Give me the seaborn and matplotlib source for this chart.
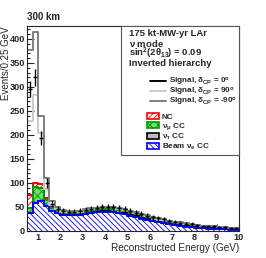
import numpy as np
import pandas as pd
import seaborn as sns
import matplotlib
matplotlib.use("Agg")
from matplotlib import pyplot as plt
from matplotlib.patches import Patch, Rectangle
from matplotlib.lines import Line2D
from matplotlib.ticker import MultipleLocator

# %% data (events / 0.25 GeV), bins from 0.5 to 10 GeV
edges = [0.5 + 0.25 * i for i in range(39)]
centers = [e + 0.125 for e in edges[:-1]]

beam_nue = [37, 58, 62, 52, 42, 37, 34, 33, 33, 34, 36, 38, 39, 40, 40, 39, 37, 35, 32,
            29, 26, 23, 20, 18, 16, 14, 12, 11, 9, 8, 7, 6, 5, 5, 4, 4, 3, 3]
nutau_cc = [0, 0, 0, 0, 0, 0, 0, 0, 0, 0, 0, 0, 0.5, 1, 1, 1.5, 1.5, 1.5, 1.5, 1.5,
            1.5, 1.5, 1.5, 1.5, 1, 1, 1, 1, 1, 1, 1, 0.5, 0.5, 0.5, 0.5, 0.5, 0.5, 0.5]
numu_cc = [11, 34, 28, 12, 6, 4, 3, 3, 3, 3, 4, 4, 4, 5, 5, 5, 5, 5, 5,
           5, 5, 5, 5, 5, 5, 4, 4, 4, 4, 4, 3, 3, 3, 3, 3, 2, 2, 2]
nc = [27, 9, 7, 4, 3, 2, 2, 2, 2, 2, 2, 2, 2, 2, 2, 2, 2, 2, 1.5,
      1.5, 1.5, 1.5, 1, 1, 1, 1, 1, 1, 1, 1, 0.5, 0.5, 0.5, 0.5, 0.5, 0.5, 0.5, 0.5]

# signal only (added on top of the background)
sig_0 = [221, 219, 97, 32, 6, 3, 2, 2, 2, 2, 2, 2, 2, 2, 2, 2, 2, 1.5, 1.5,
         1.5, 1, 1, 1, 1, 1, 1, 1, 0.5, 0.5, 0.5, 0.5, 0.5, 0.5, 0.5, 0.5, 0.5, 0.5, 0.5]
sig_p90 = [155, 182, 108, 20, 4, 2, 1.5, 1.5, 1.5, 1.5, 1.5, 1.5, 1.5, 1.5, 1.5, 1.5, 1, 1, 1,
           1, 1, 1, 1, 0.5, 0.5, 0.5, 0.5, 0.5, 0.5, 0.5, 0.5, 0.5, 0.5, 0.5, 0.5, 0.5, 0.5, 0.5]
sig_m90 = [302, 314, 143, 42, 11, 7, 4, 3, 3, 3, 3, 3, 3, 3, 3, 3, 3, 2.5, 2.5,
           2, 2, 2, 2, 1.5, 1.5, 1.5, 1, 1, 1, 1, 1, 1, 1, 0.5, 0.5, 0.5, 0.5, 0.5]
err_0 = [17, 18, 14, 10, 7.5, 7, 6.5, 6.5, 6.5, 6.5, 6.8, 6.9, 7, 7, 7, 7, 6.8, 6.6, 6.4,
         6.2, 5.9, 5.6, 5.3, 5, 4.7, 4.4, 4.2, 4, 3.7, 3.5, 3.2, 3, 2.8, 2.7, 2.5, 2.4, 2.2, 2.1]

df = pd.DataFrame({"E": centers, "nue": beam_nue, "nutau": nutau_cc,
                   "numu": numu_cc, "nc": nc})
df["c1"] = df["nue"]
df["c2"] = df["c1"] + df["nutau"]
df["c3"] = df["c2"] + df["numu"]
df["c4"] = df["c3"] + df["nc"]
df["s0"] = df["c4"] + np.array(sig_0)
df["s90"] = df["c4"] + np.array(sig_p90)
df["sm90"] = df["c4"] + np.array(sig_m90)

# %% style
sns.set_style("ticks")
plt.rcParams["font.family"] = ["Liberation Sans", "DejaVu Sans"]
plt.rcParams["font.weight"] = "bold"
plt.rcParams["mathtext.fontset"] = "custom"
plt.rcParams["mathtext.rm"] = "Liberation Sans:bold"
plt.rcParams["mathtext.bf"] = "Liberation Sans:bold"
plt.rcParams["mathtext.it"] = "Liberation Sans:bold"
plt.rcParams["hatch.linewidth"] = 0.6

fig = plt.figure(figsize=(2.66, 2.58), dpi=100)
ax = fig.add_axes([27 / 266, 1 - 231 / 258, 212 / 266, 205 / 258])

# stacked background, drawn from the top layer down
layers = [("c4", "white", "#ff0000", "//////"),
          ("c3", "#77dd77", "#009900", "xxxx"),
          ("c2", "#bbbbbb", "#000000", None),
          ("c1", "white", "#0000ff", "\\\\\\\\\\\\")]
for col, face, edge, hatch in layers:
    n0 = len(ax.patches)
    sns.histplot(data=df, x="E", weights=col, bins=edges, element="bars",
                 fill=True, ax=ax, linewidth=0, alpha=1)
    for p in ax.patches[n0:]:
        p.set_facecolor(face)
        p.set_edgecolor(edge)
        p.set_linewidth(0)
        if hatch:
            p.set_hatch(hatch)
    sns.histplot(data=df, x="E", weights=col, bins=edges, element="step",
                 fill=False, ax=ax, color=edge, linewidth=1.4)

# signal curves
sns.histplot(data=df, x="E", weights="s90", bins=edges, element="step",
             fill=False, ax=ax, color="#cccccc", linewidth=1.4)
sns.histplot(data=df, x="E", weights="sm90", bins=edges, element="step",
             fill=False, ax=ax, color="#808080", linewidth=1.4)
ax.errorbar(df["E"], df["s0"], yerr=err_0, fmt="none",
            ecolor="black", elinewidth=1.0)
ax.errorbar(df["E"], df["s0"], xerr=0.09, fmt="none", ecolor="black",
            elinewidth=1.0)

ax.set_xlim(0.5, 10)
ax.set_ylim(0, 427)
ax.xaxis.set_major_locator(MultipleLocator(1))
ax.xaxis.set_minor_locator(MultipleLocator(0.2))
ax.yaxis.set_major_locator(MultipleLocator(50))
ax.yaxis.set_minor_locator(MultipleLocator(10))
ax.tick_params(which="both", direction="in", labelsize=6.6, width=0.8, pad=1.5)
ax.tick_params(which="major", length=5)
ax.tick_params(which="minor", length=2.5)
for s in ax.spines.values():
    s.set_visible(True)
    s.set_linewidth(0.8)
ax.set_xticks([1, 2, 3, 4, 5, 6, 7, 8, 9, 10])
ax.set_xlabel("Reconstructed Energy (GeV)", loc="right", fontsize=7.2, labelpad=1)
ax.set_ylabel("Events/0.25 GeV", loc="top", fontsize=7.0)
ax.yaxis.set_label_coords(-0.077, 1.0)
fig.text(27 / 266, 1 - 17 / 258, "300 km", fontsize=7, va="center", ha="left")

# info box
fig.patches.append(Rectangle((121 / 266, 1 - 155 / 258), 118 / 266, 129 / 258,
                             transform=fig.transFigure, facecolor="white",
                             edgecolor="#555555", linewidth=0.8, zorder=3))
info = ["175 kt-MW-yr LAr", r"$\nu$ mode",
        r"sin$^2$(2$\theta_{13}$) = 0.09", "Inverted hierarchy"]
info_y = [34, 43.5, 53, 63]
for t, yy in zip(info, info_y):
    fig.text(129 / 266, 1 - yy / 258, t, fontsize=6.8,
             va="center", ha="left", zorder=5)

# legend entries, one row each
entries = [
    (Line2D([], [], color="black", lw=1.4), r"Signal, $\delta_{CP}$ = 0$^o$", 150, 82, 2.0),
    (Line2D([], [], color="#cccccc", lw=1.4), r"Signal, $\delta_{CP}$ = 90$^o$", 150, 92, 2.0),
    (Line2D([], [], color="#808080", lw=1.4), r"Signal, $\delta_{CP}$ = -90$^o$", 150, 102, 2.0),
    (Patch(facecolor="white", edgecolor="#ff0000", hatch="//////", lw=1.2), "NC", 147, 117, 1.5),
    (Patch(facecolor="#77dd77", edgecolor="#009900", hatch="xxxx", lw=1.2), r"$\nu_\mu$ CC", 147, 127, 1.5),
    (Patch(facecolor="#bbbbbb", edgecolor="black", lw=1.2), r"$\nu_\tau$ CC", 147, 137, 1.5),
    (Patch(facecolor="white", edgecolor="#0000ff", hatch="\\\\\\\\\\\\", lw=1.2), r"Beam $\nu_e$ CC", 147, 147, 1.5),
]
for h, lab, xx, yy, hl in entries:
    leg = fig.legend([h], [lab], loc="center left",
                     bbox_to_anchor=(xx / 266, 1 - yy / 258), frameon=False,
                     fontsize=5.9, handlelength=hl, handleheight=0.8,
                     handletextpad=0.3, borderpad=0, borderaxespad=0)
    leg.set_zorder(6)

fig.savefig("out.png", dpi=100)
